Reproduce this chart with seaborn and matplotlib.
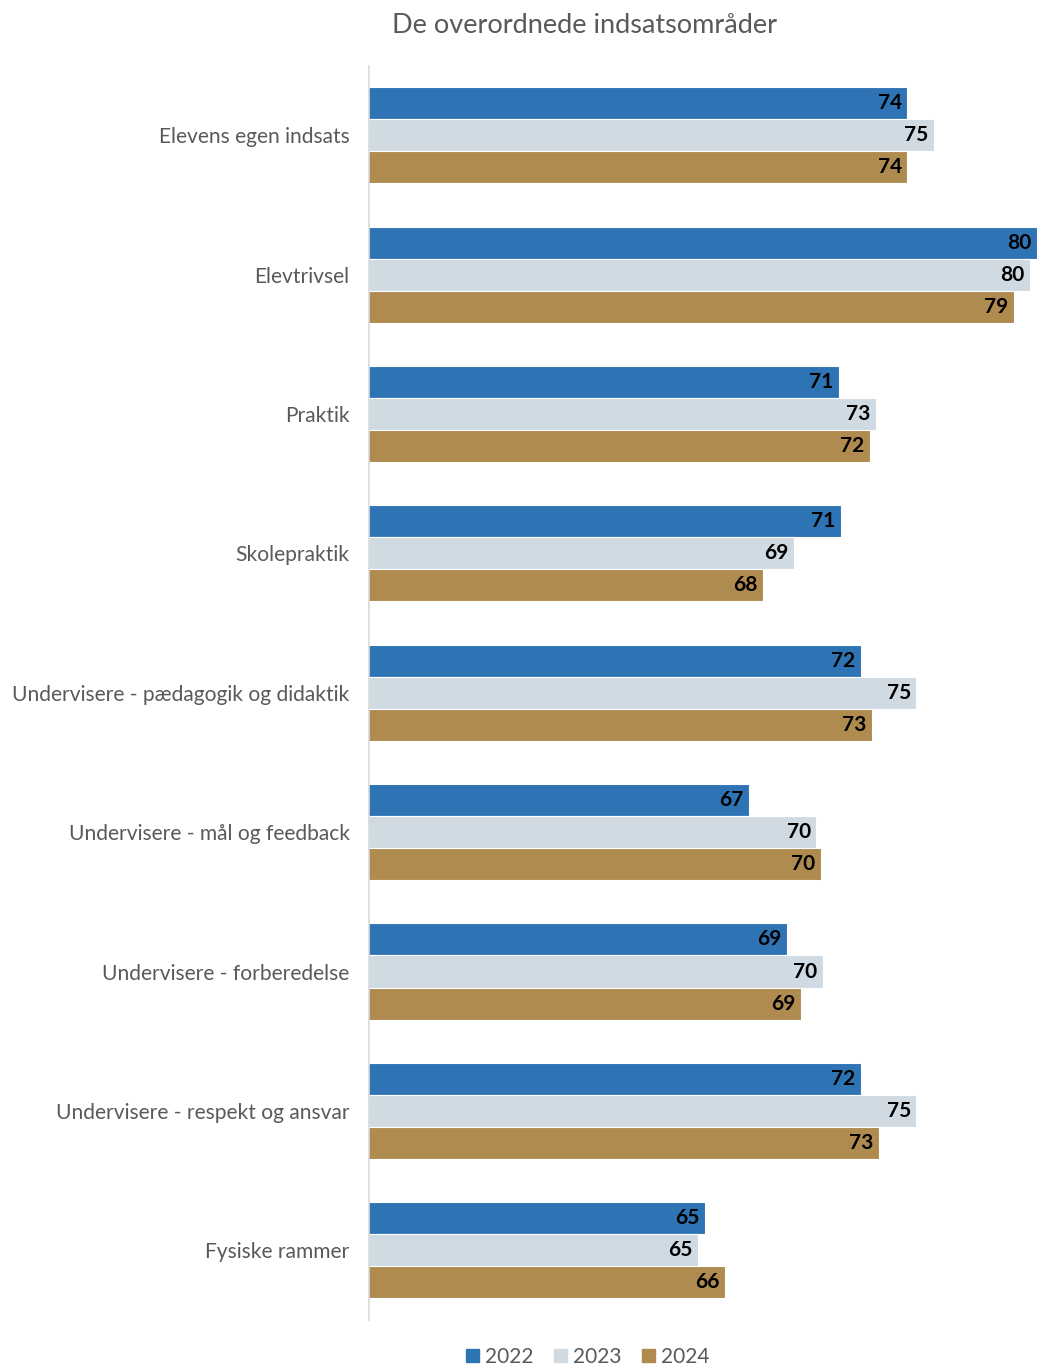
import pandas as pd
import matplotlib
matplotlib.use("Agg")
import matplotlib.pyplot as plt
import seaborn as sns

# data
categories = [
    "Elevens egen indsats",
    "Elevtrivsel",
    "Praktik",
    "Skolepraktik",
    "Undervisere - pædagogik og didaktik",
    "Undervisere - mål og feedback",
    "Undervisere - forberedelse",
    "Undervisere - respekt og ansvar",
    "Fysiske rammer",
]
years = ["2022", "2023", "2024"]
values_2022 = [74.2, 80.0, 71.1, 71.2, 72.1, 67.1, 68.8, 72.1, 65.1]
values_2023 = [75.4, 79.7, 72.8, 69.1, 74.6, 70.1, 70.4, 74.6, 64.8]
values_2024 = [74.2, 79.0, 72.5, 67.7, 72.6, 70.3, 69.4, 72.9, 66.0]
colors = ["#2E74B5", "#CFDAE3", "#B08B4F"]

# long format for seaborn
df = pd.DataFrame({
    "category": categories * 3,
    "year": [y for y in years for _ in categories],
    "value": values_2022 + values_2023 + values_2024,
})

sns.set_style("white")
plt.rcParams["font.family"] = ["Lato", "DejaVu Sans"]

fig = plt.figure(figsize=(10.37, 13.65), dpi=100)
ax = fig.add_axes([0.3558, 0.033, 0.6442, 0.919])

sns.barplot(ax=ax, data=df, y="category", x="value", hue="year", orient="h",
            palette=colors, saturation=1, width=0.69, edgecolor="white",
            linewidth=0.8, errorbar=None, legend=False)

ax.set_xlim(50, 80.02)
ax.set_ylim(8.5, -0.5)
ax.set_xlabel("")
ax.set_ylabel("")
ax.set_xticks([])
ax.tick_params(axis="y", length=0, pad=14, labelsize=15.1, labelcolor="#595959")

for side in ["top", "right", "bottom"]:
    ax.spines[side].set_visible(False)
ax.spines["left"].set_color("#D9D9D9")
ax.spines["left"].set_linewidth(1.2)

# value labels inside bar ends
for cont in ax.containers:
    texts = ax.bar_label(cont, labels=[f"{v:.0f}" for v in cont.datavalues],
                         padding=-4, fontsize=15, fontweight="bold", color="black")
    for t in texts:
        t.set_ha("right")

fig.text(0.564, 0.981, "De overordnede indsatsområder", ha="center", va="center",
         fontsize=19.5, color="#595959")

handles = [plt.Rectangle((0, 0), 1, 1, color=c) for c in colors]
fig.legend(handles, years, loc="lower center", bbox_to_anchor=(0.567, -0.015),
           ncol=3, frameon=False, fontsize=15, labelcolor="#595959",
           handlelength=0.6, handleheight=0.6, handletextpad=0.3, columnspacing=1.0)

fig.savefig("out.png", dpi=100)
